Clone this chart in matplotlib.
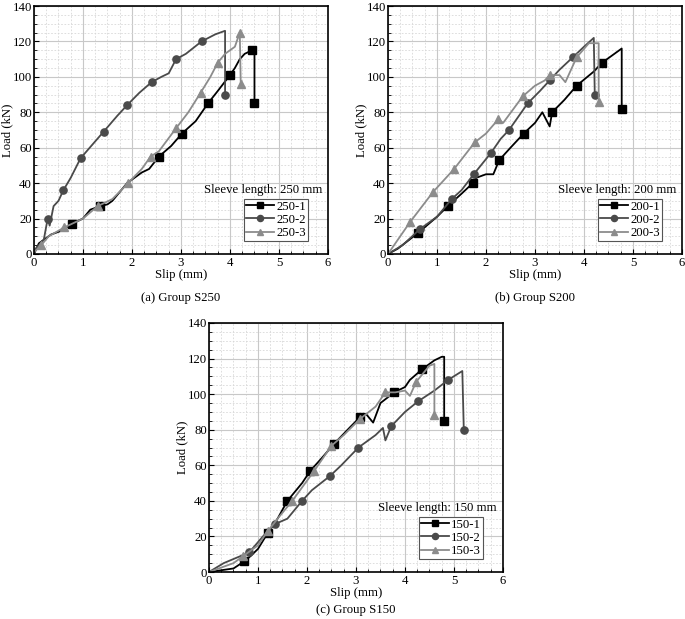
import matplotlib
matplotlib.use("Agg")
import matplotlib.pyplot as plt
from matplotlib.ticker import MultipleLocator

plt.rcParams["font.family"] = ["Liberation Serif", "DejaVu Serif"]
plt.rcParams["font.size"] = 9.2

# ---- data (slip in mm, load in kN) ----
# group S250
s250_1_x = [0, 0.1, 0.2, 0.35, 0.55, 0.77, 1.0, 1.15, 1.35, 1.5, 1.6, 1.9, 2.2, 2.35, 2.55, 2.8, 3.02, 3.3, 3.55, 3.75, 4.0, 4.1, 4.2, 4.3, 4.45, 4.5, 4.5]
s250_1_y = [0, 6, 8, 11, 13, 17, 20, 25, 27, 28, 30, 40, 46, 48, 55, 61, 68, 75, 85, 92, 101, 105, 110, 113, 115, 114, 85]
s250_1_mk = [5, 8, 14, 16, 18, 20, 24, 26]

s250_2_x = [0, 0.1, 0.2, 0.28, 0.32, 0.4, 0.5, 0.6, 0.75, 0.95, 1.2, 1.42, 1.7, 1.9, 2.15, 2.4, 2.6, 2.75, 2.9, 3.1, 3.42, 3.7, 3.9, 3.9]
s250_2_y = [2, 5, 8, 20, 16, 27, 30, 36, 43, 54, 62, 69, 78, 84, 91, 97, 100, 102, 110, 113, 120, 124, 126, 90]
s250_2_mk = [3, 7, 9, 11, 13, 15, 18, 20, 23]

s250_3_x = [0, 0.15, 0.3, 0.62, 1.0, 1.3, 1.6, 1.92, 2.2, 2.38, 2.55, 2.9, 3.15, 3.4, 3.6, 3.75, 3.9, 4.1, 4.2, 4.22]
s250_3_y = [1, 5, 10, 15, 20, 27, 31, 40, 48, 55, 58, 71, 80, 91, 100, 108, 113, 117, 125, 96]
s250_3_mk = [1, 3, 5, 7, 9, 11, 13, 15, 18, 19]

# group S200
s200_1_x = [0, 0.2, 0.62, 1.0, 1.22, 1.5, 1.73, 1.8, 2.0, 2.15, 2.27, 2.5, 2.77, 3.0, 3.15, 3.3, 3.35, 3.6, 3.85, 4.2, 4.37, 4.77, 4.77]
s200_1_y = [0, 3, 12, 21, 27, 34, 40, 43, 45, 45, 53, 60, 68, 74, 80, 72, 80, 87, 95, 103, 108, 116, 82]
s200_1_mk = [2, 4, 6, 10, 12, 16, 18, 20, 22]

s200_2_x = [0, 0.3, 0.65, 1.0, 1.3, 1.5, 1.75, 2.1, 2.3, 2.47, 2.85, 3.1, 3.3, 3.5, 3.77, 4.0, 4.2, 4.22]
s200_2_y = [0, 5, 14, 21, 31, 36, 45, 57, 65, 70, 85, 92, 98, 104, 111, 117, 122, 90]
s200_2_mk = [2, 4, 6, 7, 9, 10, 12, 14, 17]

s200_3_x = [0, 0.45, 0.92, 1.35, 1.77, 2.0, 2.25, 2.35, 2.75, 3.0, 3.2, 3.3, 3.5, 3.62, 3.85, 4.1, 4.3, 4.3]
s200_3_y = [0, 18, 35, 48, 63, 68, 76, 74, 89, 95, 98, 101, 101, 97, 111, 119, 119, 86]
s200_3_mk = [1, 2, 3, 4, 6, 8, 11, 14, 17]

# group S150
s150_1_x = [0, 0.5, 0.72, 0.85, 1.0, 1.2, 1.4, 1.6, 1.9, 2.07, 2.3, 2.55, 2.9, 3.08, 3.2, 3.35, 3.5, 3.78, 4.0, 4.1, 4.35, 4.6, 4.75, 4.8, 4.8]
s150_1_y = [0, 2, 6, 9, 13, 22, 30, 40, 50, 57, 64, 72, 82, 87, 89, 84, 95, 101, 104, 108, 114, 119, 121, 121, 85]
s150_1_mk = [2, 5, 7, 9, 11, 13, 17, 20, 24]

s150_2_x = [0, 0.3, 0.82, 1.1, 1.35, 1.6, 1.9, 2.1, 2.47, 2.7, 3.05, 3.4, 3.55, 3.6, 3.72, 4.0, 4.27, 4.6, 4.88, 5.17, 5.2]
s150_2_y = [0, 5, 11, 20, 27, 30, 40, 46, 54, 60, 70, 77, 81, 74, 82, 90, 96, 102, 108, 113, 80]
s150_2_mk = [2, 4, 6, 8, 10, 14, 16, 18, 20]

s150_3_x = [0, 0.5, 0.7, 1.0, 1.2, 1.4, 1.7, 2.15, 2.5, 2.75, 3.08, 3.4, 3.6, 3.8, 4.0, 4.1, 4.23, 4.5, 4.6, 4.6]
s150_3_y = [0, 5, 9, 15, 23, 30, 40, 57, 71, 77, 86, 93, 101, 101, 102, 99, 107, 116, 117, 88]
s150_3_mk = [2, 4, 6, 7, 8, 10, 12, 16, 19]

# name, caption, axes rect, caption y (figure fraction), series
panels = [
    ("250", "(a) Group S250", [0.0496, 0.5897, 0.4292, 0.4006], 0.519,
     [(s250_1_x, s250_1_y, s250_1_mk), (s250_2_x, s250_2_y, s250_2_mk), (s250_3_x, s250_3_y, s250_3_mk)]),
    ("200", "(b) Group S200", [0.5664, 0.5897, 0.4292, 0.4006], 0.519,
     [(s200_1_x, s200_1_y, s200_1_mk), (s200_2_x, s200_2_y, s200_2_mk), (s200_3_x, s200_3_y, s200_3_mk)]),
    ("150", "(c) Group S150", [0.3051, 0.0759, 0.4292, 0.4023], 0.014,
     [(s150_1_x, s150_1_y, s150_1_mk), (s150_2_x, s150_2_y, s150_2_mk), (s150_3_x, s150_3_y, s150_3_mk)]),
]

colors = ["#000000", "#4a4a4a", "#8c8c8c"]
markers = ["s", "o", "^"]

fig = plt.figure(figsize=(6.85, 6.19), dpi=100)

for name, caption, rect, cap_y, series in panels:
    ax = fig.add_axes(rect)
    for i, (x, y, mk) in enumerate(series):
        ax.plot(x, y, color=colors[i], lw=1.3, marker=markers[i], ms=5.2,
                markevery=mk, label=f"{name}-{i + 1}")
    ax.set_xlim(0, 6)
    ax.set_ylim(0, 140)
    ax.xaxis.set_major_locator(MultipleLocator(1))
    ax.xaxis.set_minor_locator(MultipleLocator(0.25))
    ax.yaxis.set_major_locator(MultipleLocator(20))
    ax.yaxis.set_minor_locator(MultipleLocator(5))
    ax.grid(True, which="major", color="#c8c8c8", lw=0.8)
    ax.grid(True, which="minor", color="#d8d8d8", lw=0.6, ls=(0, (2, 2)))
    ax.set_axisbelow(True)
    ax.tick_params(which="both", direction="in", length=3.5)
    ax.tick_params(which="minor", length=2)
    ax.tick_params(axis="x", pad=2)
    ax.tick_params(axis="y", pad=1.5)
    for sp in ax.spines.values():
        sp.set_linewidth(1.2)
    ax.set_xlabel("Slip (mm)", labelpad=0)
    ax.set_ylabel("Load (kN)", labelpad=-0.5)
    ax.text(0.98, 0.232, f"Sleeve length: {name} mm", transform=ax.transAxes,
            ha="right", va="bottom")
    leg = ax.legend(loc="lower right", bbox_to_anchor=(0.932, 0.052), frameon=True,
                    fancybox=False, edgecolor="#555555", framealpha=1,
                    borderpad=0.15, labelspacing=0.1, handlelength=2.2,
                    handletextpad=0.15, borderaxespad=0, markerscale=0.85)
    leg.get_frame().set_linewidth(0.8)
    fig.text(rect[0] + rect[2] / 2, cap_y, caption, ha="center", va="center")

fig.savefig("out.png", dpi=100)
